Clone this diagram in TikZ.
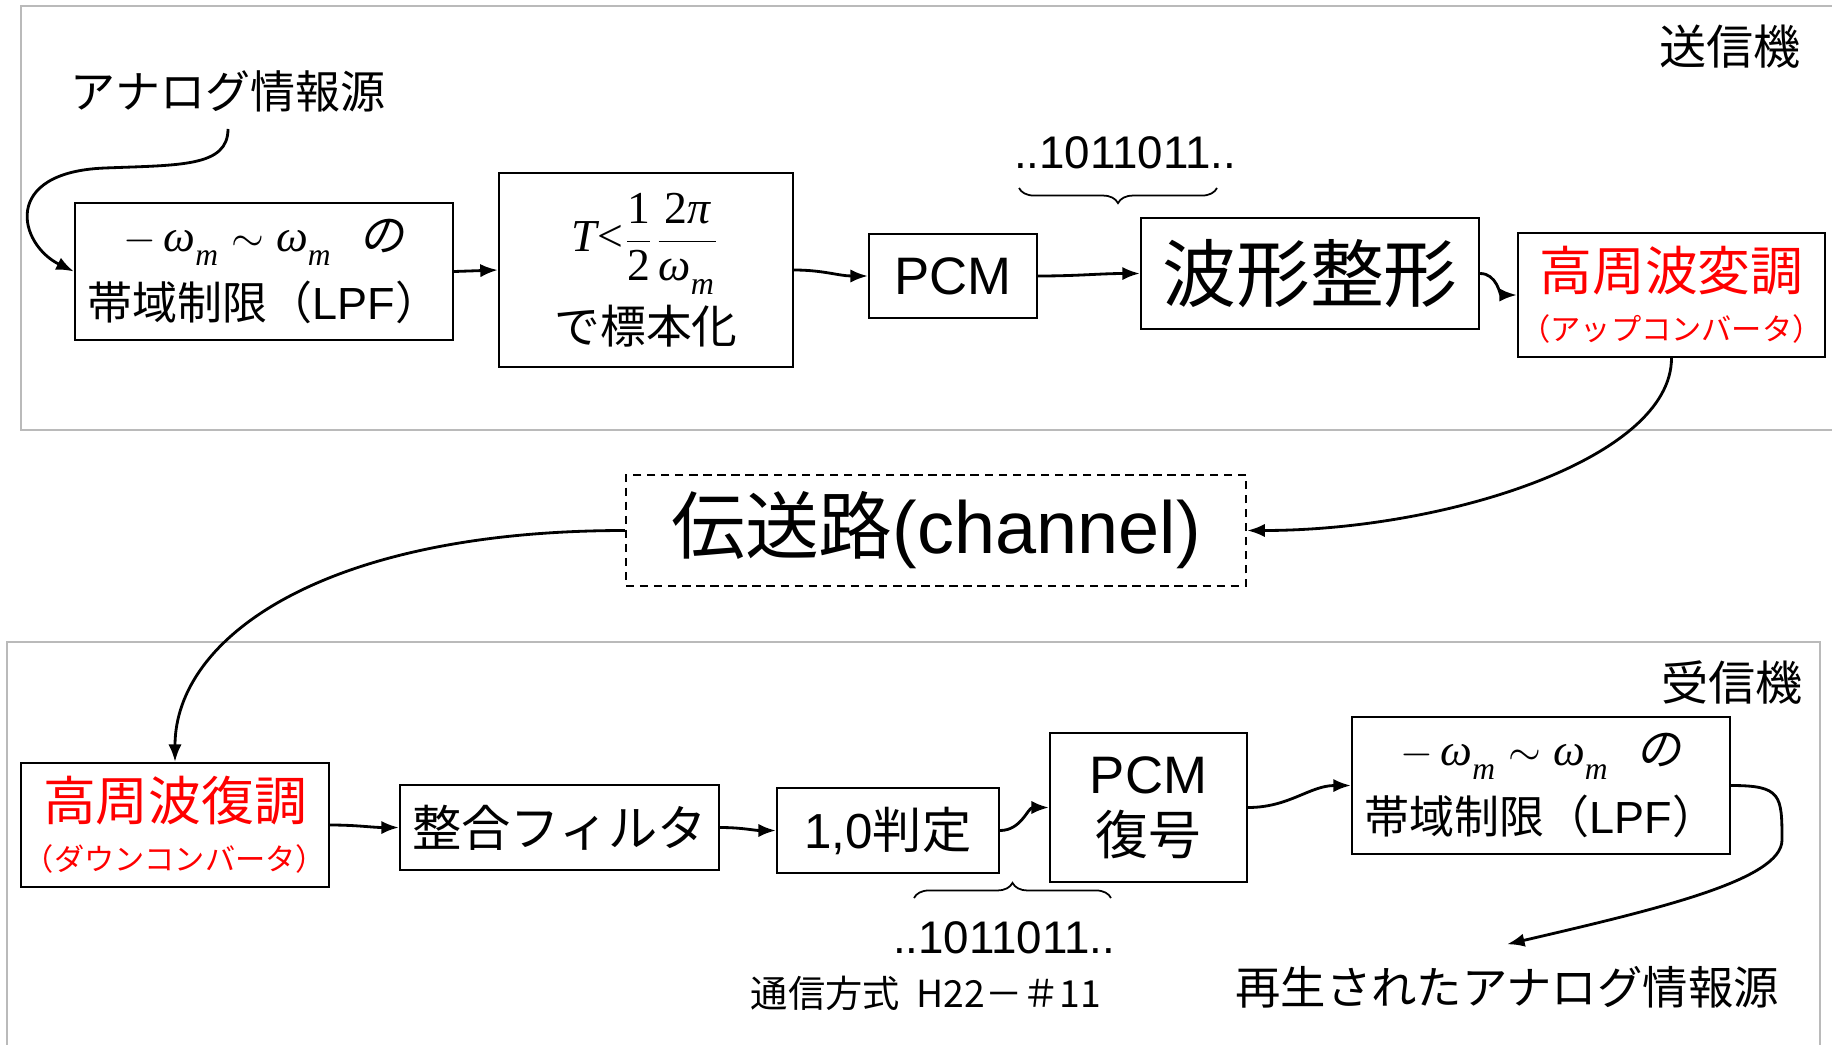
\documentclass[tikz,border=0pt]{standalone}
\usepackage{fontspec}
\usepackage{amsmath}
\setmainfont{Liberation Sans}
\newfontfamily\jp{Noto Sans CJK JP}
\newfontfamily\jpi{Noto Sans CJK JP}[FakeSlant=0.2]
\newfontfamily\tms{Liberation Serif}
\usetikzlibrary{arrows.meta,decorations.pathreplacing}
% Times-like letters for the formulas
\newcommand\vi[1]{\text{\tms\itshape #1}}
\newcommand\vr[1]{\text{\tms #1}}
\newcommand\om{\vi{ω}_{\text{\tms\itshape\raisebox{-0.22em}{m}}}}
\newcommand\band{$-\,\om\sim\om$\hspace{0.6em}{\jpi の}}

\begin{document}
\begin{tikzpicture}[x=0.01cm,y=-0.01cm,
    blk/.style={draw,line width=0.6pt,inner sep=0pt,align=center},
    arr/.style={-{Latex[length=5pt,width=3.8pt]},line width=0.8pt},
    frm/.style={draw=black!27,line width=0.7pt},
    brc/.style={decorate,decoration={brace,amplitude=4.3pt},line width=0.5pt},
    lbl/.style={inner sep=0pt}]
  \useasboundingbox (0,0) rectangle (1832,1045);
  % Draw frames
  \draw[frm] (21,6) rectangle (1860,430);
  \draw[frm] (7,642) rectangle (1820,1080);
  \node[lbl,font=\jp\fontsize{13.4}{16}\selectfont] (txlbl) at (1730,47) {送信機};
  \node[lbl,font=\jp\fontsize{13.4}{16}\selectfont] (rxlbl) at (1732,683) {受信機};
  % Draw transmitter blocks
  \node[lbl,font=\jp\fontsize{12.8}{15.4}\selectfont] (src) at (228,91) {アナログ情報源};
  \node[blk,minimum width=3.78cm,minimum height=1.37cm,
        font=\fontsize{12.8}{15.6}\selectfont] (lpfA) at (264,271.5)
        {\band\\[3.5pt]{\jp 帯域制限（}LPF{\jp ）}};
  \node[blk,minimum width=2.94cm,minimum height=1.94cm,
        font=\fontsize{13}{15.6}\selectfont] (samp) at (646,270)
        {$\vi{T}\vr{<}\dfrac{\vr{1}}{\vr{2}}\dfrac{\vr{2}\vi{π}}{\om}$\\[2pt]{\jp で標本化}};
  \node[blk,minimum width=1.68cm,minimum height=0.84cm,
        font=\fontsize{15}{18}\selectfont] (pcmA) at (953,276) {PCM};
  \node[blk,minimum width=3.38cm,minimum height=1.11cm,
        font=\jp\fontsize{21}{25}\selectfont] (shape) at (1310,273.5) {波形整形};
  \node[blk,minimum width=3.07cm,minimum height=1.24cm,text=red,
        font=\jp\fontsize{15}{14.2}\selectfont] (upc) at (1671.5,295)
        {高周波変調\\{\fontsize{8.6}{14.2}\selectfont （アップコンバータ）}};
  % Draw channel
  \node[blk,dash pattern=on 2.4pt off 1.6pt,minimum width=6.2cm,minimum height=1.11cm,
        font=\fontsize{21}{25}\selectfont] (chan) at (936,530.5) {{\jp 伝送路}(channel)};
  % Draw receiver blocks
  \node[blk,minimum width=3.08cm,minimum height=1.24cm,text=red,
        font=\jp\fontsize{15}{14.2}\selectfont] (dnc) at (175,825)
        {高周波復調\\{\fontsize{8.6}{14.2}\selectfont （ダウンコンバータ）}};
  \node[blk,minimum width=3.19cm,minimum height=0.85cm,
        font=\jp\fontsize{14}{17}\selectfont] (mf) at (559.5,827.5) {整合フィルタ};
  \node[blk,minimum width=2.22cm,minimum height=0.85cm,
        font=\fontsize{14}{17}\selectfont] (dec) at (888,830.5) {1,0{\jp 判定}};
  \node[blk,minimum width=1.97cm,minimum height=1.49cm,
        font=\fontsize{15}{17.4}\selectfont] (pcmB) at (1148.5,807.5) {PCM\\{\jp 復号}};
  \node[blk,minimum width=3.78cm,minimum height=1.37cm,
        font=\fontsize{12.8}{15.6}\selectfont] (lpfB) at (1541,785.5)
        {\band\\[3.5pt]{\jp 帯域制限（}LPF{\jp ）}};
  \node[lbl,font=\jp\fontsize{12.9}{15.4}\selectfont] (out) at (1507,987) {再生されたアナログ情報源};
  % Draw bit strings
  \node[lbl,font=\fontsize{13}{15}\selectfont] (bitsA) at (1125,153) {..1011011..};
  \node[lbl,font=\fontsize{13}{15}\selectfont] (bitsB) at (1004,938) {..1011011..};
  \coordinate (bAl) at (1019,188);
  \coordinate (bAr) at (1217,188);
  \draw[brc] (bAr) -- (bAl);
  \coordinate (bBl) at (914,898);
  \coordinate (bBr) at (1111,898);
  \draw[brc] (bBl) -- (bBr);
  \node[lbl,font=\jp\fontsize{10.6}{12}\selectfont] (note) at (926,993) {通信方式\ \ H22－＃11};
  % Draw arrows
  \draw[arr] ([yshift=-4.7pt]src.south) .. controls +(0,38) and +(75,-3) .. (105,168)
        .. controls +(-105,4) and +(-55,-27) .. (lpfA.west);
  \draw[arr] (lpfA.east) -- (samp.west);
  \draw[arr] (samp.east) to[out=0,in=180] (pcmA.west);
  \draw[arr] (pcmA.east) to[out=0,in=180] (shape.west);
  \draw[arr] (shape.east) to[out=0,in=180] (upc.west);
  \draw[arr] (upc.south) .. controls +(0,100) and +(200,0) .. (chan.east);
  \draw[arr] (chan.west) .. controls +(-300,0) and +(0,-125) .. (dnc.north);
  \draw[arr] (dnc.east) to[out=0,in=180] (mf.west);
  \draw[arr] (mf.east) to[out=0,in=180] (dec.west);
  \draw[arr] (dec.east) to[out=0,in=180] (pcmB.west);
  \draw[arr] (pcmB.east) to[out=0,in=180] (lpfB.west);
  \draw[arr] (lpfB.east) .. controls +(50,0) and +(0,-45) .. (1782,840)
        .. controls +(0,40) and +(150,-35) .. ([yshift=6pt]out.north);
\end{tikzpicture}
\end{document}
